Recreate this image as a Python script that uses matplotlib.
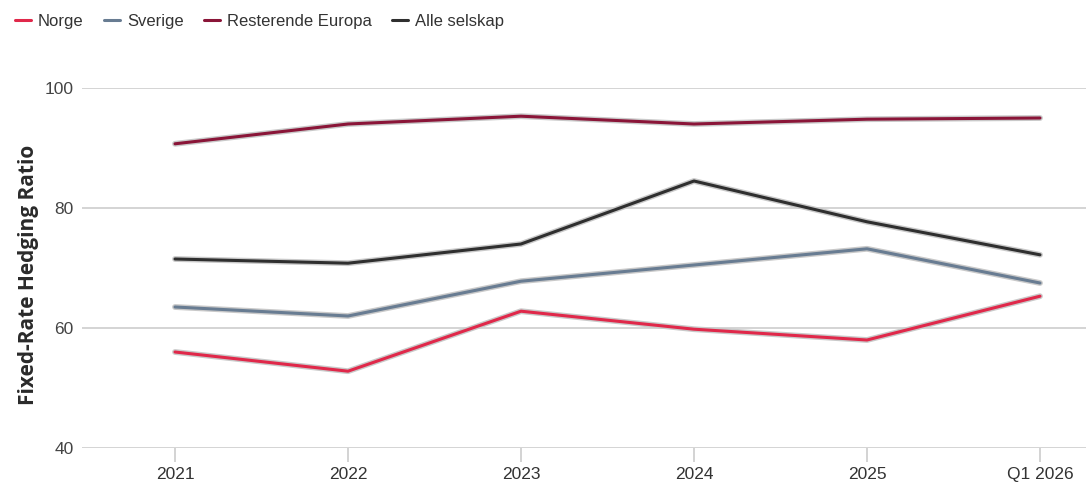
import matplotlib.pyplot as plt
import matplotlib.patheffects as pe

periods = ["2021", "2022", "2023", "2024", "2025", "Q1 2026"]
norge = [56.0, 52.8, 62.8, 59.8, 58.0, 65.3]
sverige = [63.5, 62.0, 67.8, 70.5, 73.2, 67.5]
resterende_europa = [90.7, 94.0, 95.3, 94.0, 94.8, 95.0]
alle_selskap = [71.5, 70.8, 74.0, 84.5, 77.7, 72.2]

series = [
    ("Norge", norge, "#e0284a"),
    ("Sverige", sverige, "#687c92"),
    ("Resterende Europa", resterende_europa, "#8a1538"),
    ("Alle selskap", alle_selskap, "#2f2f2f"),
]

plt.rcParams["font.family"] = ["Liberation Sans", "DejaVu Sans"]

fig = plt.figure(figsize=(10.86, 4.84), dpi=100)
ax = fig.add_axes([82 / 1086, 1 - 448 / 484, 1 - 82 / 1086, (448 - 88) / 484])

x = list(range(len(periods)))
halo = [pe.Stroke(linewidth=4.2, foreground="#c9c9c9"), pe.Normal()]
handles = []
for name, vals, color in series:
    (ln,) = ax.plot(x, vals, color=color, linewidth=2.2, label=name,
                    solid_capstyle="round", path_effects=halo, zorder=3)
    handles.append(ln)

ax.set_ylim(40, 100)
ax.set_xlim((82 - 175) / 173, (1086 - 175) / 173)
ax.set_yticks([40, 60, 80, 100])
ax.set_xticks(x)
ax.set_xticklabels(periods)

ax.yaxis.grid(True, color="#d4d4d4", linewidth=1.4, zorder=0)
ax.set_axisbelow(True)
for s in ax.spines.values():
    s.set_visible(False)

ax.tick_params(axis="y", length=0, pad=6, labelsize=12.5, labelcolor="#444444")
ax.tick_params(axis="x", length=10, width=1.2, color="#cccccc", pad=4,
               labelsize=12.5, labelcolor="#333333")

ax.set_ylabel("Fixed-Rate Hedging Ratio", family=["Open Sans", "DejaVu Sans"],
              fontweight="bold", fontsize=15, color="#2a2a2a")
ax.yaxis.set_label_coords(-0.043, 0.48)

leg = fig.legend(handles=handles, loc="upper left",
                 bbox_to_anchor=(3 / 1086, 1 - 2 / 484),
                 ncol=4, frameon=False, fontsize=12, handlelength=1.0,
                 handletextpad=0.4, columnspacing=1.2, borderaxespad=0.3)
for t in leg.get_texts():
    t.set_color("#333333")
for h in leg.legend_handles:
    h.set_linewidth(2.2)
    h.set_path_effects([])

fig.savefig("out.png", dpi=100, facecolor="white")
